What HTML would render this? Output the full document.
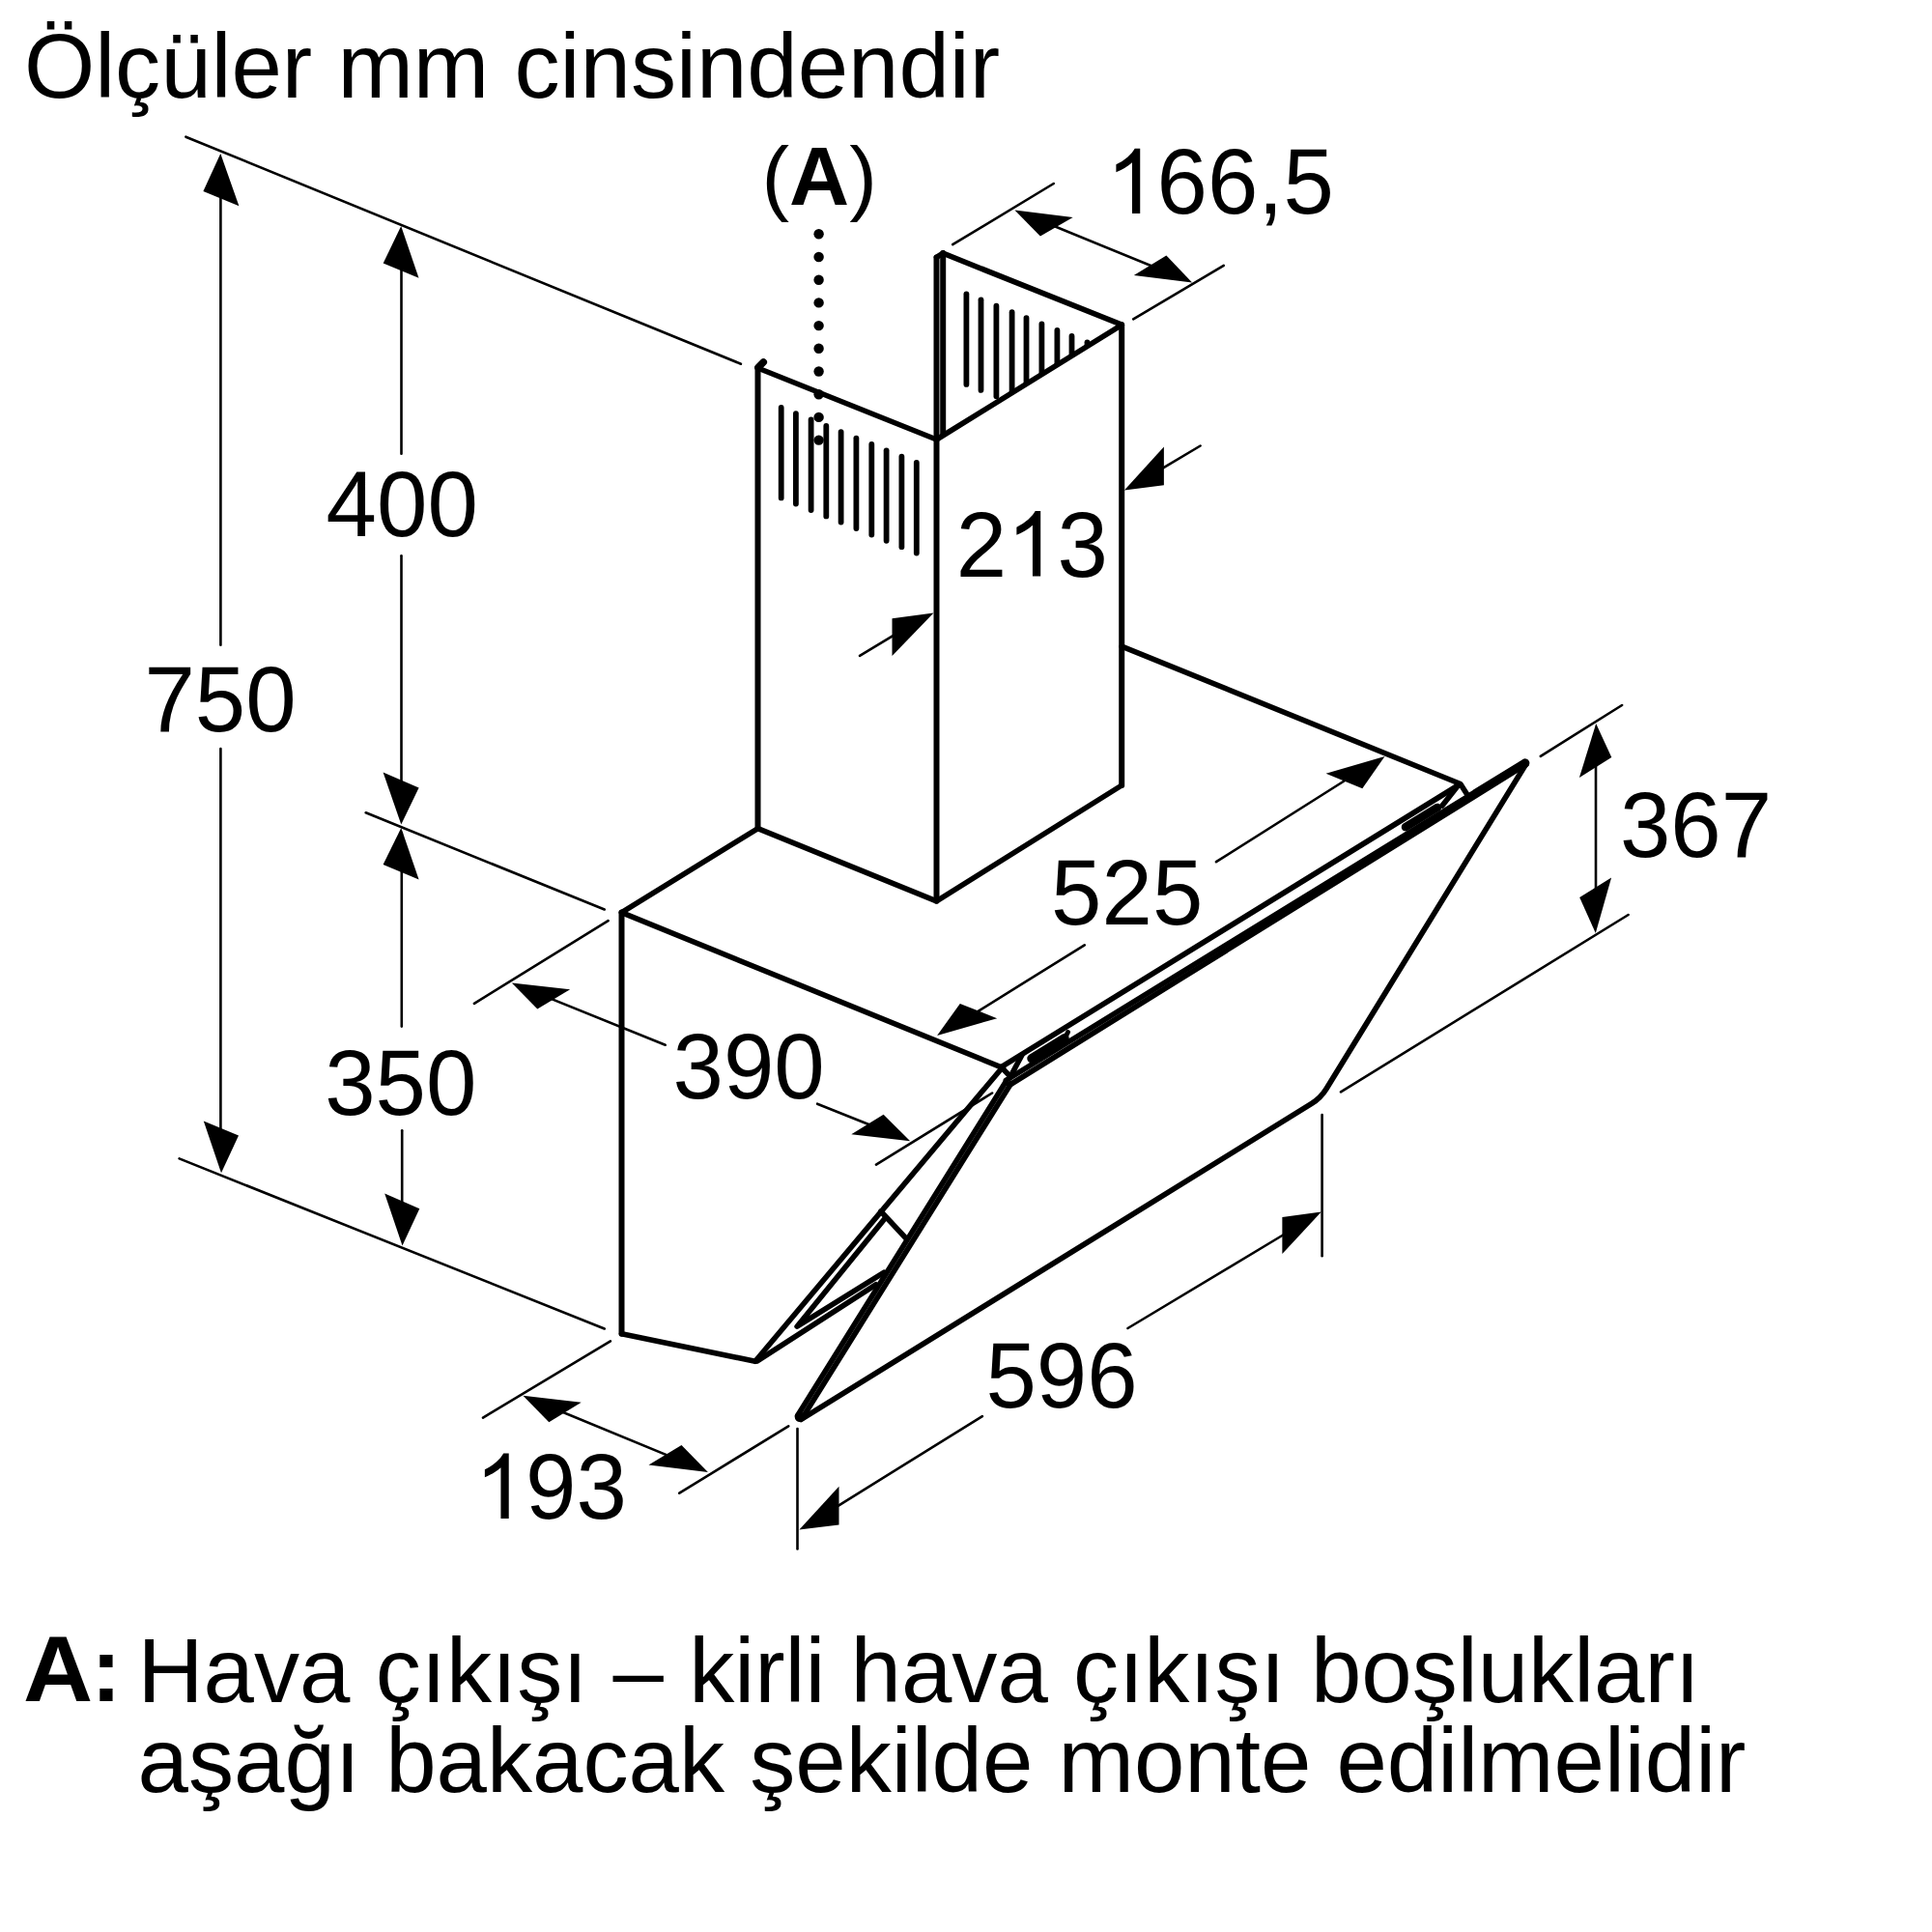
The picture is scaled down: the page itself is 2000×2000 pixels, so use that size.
<!DOCTYPE html>
<html><head><meta charset="utf-8"><title>Ölçüler</title>
<style>
html,body{margin:0;padding:0;background:#fff;}
body{width:2000px;height:2000px;overflow:hidden;}
svg{display:block;font-family:"Liberation Sans",sans-serif;}
</style></head>
<body>
<svg width="2000" height="2000" viewBox="0 0 2000 2000" stroke="#000" fill="#000">
<rect x="0" y="0" width="2000" height="2000" fill="#fff" stroke="none"/>
<g stroke="#000" fill="none">
<line x1="192.4" y1="141.7" x2="766.9" y2="376.7" stroke-width="2.6" stroke-linecap="round" />
<line x1="228.4" y1="165.0" x2="228.4" y2="667.8" stroke-width="2.6" stroke-linecap="round" />
<line x1="228.4" y1="775.0" x2="228.4" y2="1208.0" stroke-width="2.6" stroke-linecap="round" />
<line x1="415.5" y1="240.0" x2="415.5" y2="469.7" stroke-width="2.6" stroke-linecap="round" />
<line x1="415.5" y1="575.3" x2="415.5" y2="848.0" stroke-width="2.6" stroke-linecap="round" />
<line x1="415.8" y1="862.0" x2="415.8" y2="1062.6" stroke-width="2.6" stroke-linecap="round" />
<line x1="416.2" y1="1170.3" x2="416.2" y2="1284.0" stroke-width="2.6" stroke-linecap="round" />
<line x1="378.7" y1="841.3" x2="625.7" y2="941.5" stroke-width="2.6" stroke-linecap="round" />
<line x1="185.6" y1="1199.4" x2="625.7" y2="1375.5" stroke-width="2.6" stroke-linecap="round" />
<line x1="629.6" y1="953.1" x2="490.9" y2="1038.8" stroke-width="2.6" stroke-linecap="round" />
<line x1="545.0" y1="1023.6" x2="688.7" y2="1081.7" stroke-width="2.6" stroke-linecap="round" />
<line x1="846.1" y1="1142.7" x2="930.0" y2="1176.3" stroke-width="2.6" stroke-linecap="round" />
<line x1="1027.1" y1="1131.5" x2="907.0" y2="1205.6" stroke-width="2.6" stroke-linecap="round" />
<line x1="986.2" y1="253.2" x2="1090.8" y2="190.0" stroke-width="2.6" stroke-linecap="round" />
<line x1="1173.2" y1="330.4" x2="1266.8" y2="274.9" stroke-width="2.6" stroke-linecap="round" />
<line x1="1060.0" y1="221.3" x2="1225.0" y2="288.8" stroke-width="2.6" stroke-linecap="round" />
<line x1="1203.3" y1="484.9" x2="1242.6" y2="461.5" stroke-width="2.6" stroke-linecap="round" />
<line x1="925.2" y1="657.7" x2="890.0" y2="678.9" stroke-width="2.6" stroke-linecap="round" />
<line x1="1393.0" y1="807.5" x2="1259.0" y2="892.2" stroke-width="2.6" stroke-linecap="round" />
<line x1="1011.3" y1="1047.6" x2="1122.7" y2="978.3" stroke-width="2.6" stroke-linecap="round" />
<line x1="1594.8" y1="782.8" x2="1679.1" y2="730.0" stroke-width="2.6" stroke-linecap="round" />
<line x1="1388.0" y1="1130.3" x2="1685.6" y2="947.0" stroke-width="2.6" stroke-linecap="round" />
<line x1="1652.0" y1="760.0" x2="1652.0" y2="955.0" stroke-width="2.6" stroke-linecap="round" />
<line x1="1368.6" y1="1154.1" x2="1368.6" y2="1300.3" stroke-width="2.6" stroke-linecap="round" />
<line x1="825.5" y1="1479.0" x2="825.5" y2="1603.5" stroke-width="2.6" stroke-linecap="round" />
<line x1="866.8" y1="1559.3" x2="1016.9" y2="1466.1" stroke-width="2.6" stroke-linecap="round" />
<line x1="1167.5" y1="1375.0" x2="1329.0" y2="1278.0" stroke-width="2.6" stroke-linecap="round" />
<line x1="631.9" y1="1388.3" x2="500.0" y2="1467.6" stroke-width="2.6" stroke-linecap="round" />
<line x1="816.2" y1="1476.3" x2="703.3" y2="1545.7" stroke-width="2.6" stroke-linecap="round" />
<line x1="552.0" y1="1449.2" x2="722.0" y2="1519.4" stroke-width="2.6" stroke-linecap="round" />
<polygon points="228.3,159.0 210.4,198.1 247.4,213.2" fill="#000" stroke="none"/>
<polygon points="229.0,1214.3 210.8,1160.4 247.0,1175.5" fill="#000" stroke="none"/>
<polygon points="415.2,234.0 396.7,272.6 433.5,287.7" fill="#000" stroke="none"/>
<polygon points="415.3,853.5 396.6,799.6 433.6,815.4" fill="#000" stroke="none"/>
<polygon points="415.3,857.0 396.6,895.0 433.6,910.5" fill="#000" stroke="none"/>
<polygon points="416.5,1289.4 398.2,1235.6 434.3,1251.3" fill="#000" stroke="none"/>
<polygon points="529.8,1017.5 590.1,1024.2 556.3,1044.6" fill="#000" stroke="none"/>
<polygon points="942.2,1181.2 881.3,1174.2 914.6,1153.8" fill="#000" stroke="none"/>
<polygon points="1050.4,217.4 1110.7,225.1 1076.9,244.5" fill="#000" stroke="none"/>
<polygon points="1234.1,292.5 1173.8,285.0 1207.4,264.5" fill="#000" stroke="none"/>
<polygon points="1163.9,507.6 1204.9,462.5 1204.9,502.3" fill="#000" stroke="none"/>
<polygon points="966.5,634.6 923.5,640.3 923.5,679.1" fill="#000" stroke="none"/>
<polygon points="1433.5,782.9 1372.6,800.8 1410.3,816.3" fill="#000" stroke="none"/>
<polygon points="970.1,1072.0 993.8,1039.1 1032.2,1054.2" fill="#000" stroke="none"/>
<polygon points="1652.2,749.1 1634.9,805.1 1668.3,784.1" fill="#000" stroke="none"/>
<polygon points="1651.8,966.0 1635.2,929.1 1668.1,908.6" fill="#000" stroke="none"/>
<polygon points="1367.8,1254.5 1327.4,1259.9 1327.4,1298.1" fill="#000" stroke="none"/>
<polygon points="827.4,1583.5 868.5,1538.8 868.5,1578.6" fill="#000" stroke="none"/>
<polygon points="541.4,1444.8 601.7,1451.8 568.3,1472.2" fill="#000" stroke="none"/>
<polygon points="732.9,1523.9 671.5,1516.4 705.5,1495.9" fill="#000" stroke="none"/>
<circle cx="847.6" cy="242.3" r="5.2" fill="#000" stroke="none"/>
<circle cx="847.6" cy="266.0" r="5.2" fill="#000" stroke="none"/>
<circle cx="847.6" cy="289.7" r="5.2" fill="#000" stroke="none"/>
<circle cx="847.6" cy="313.4" r="5.2" fill="#000" stroke="none"/>
<circle cx="847.6" cy="337.1" r="5.2" fill="#000" stroke="none"/>
<circle cx="847.6" cy="360.8" r="5.2" fill="#000" stroke="none"/>
<circle cx="847.6" cy="384.5" r="5.2" fill="#000" stroke="none"/>
<circle cx="847.6" cy="408.2" r="5.2" fill="#000" stroke="none"/>
<circle cx="847.6" cy="431.9" r="5.2" fill="#000" stroke="none"/>
<circle cx="847.6" cy="455.6" r="5.2" fill="#000" stroke="none"/>
<polyline points="784.5,380.7 784.5,857.6" fill="none" stroke-width="6.0" stroke-linejoin="round" stroke-linecap="round"/>
<polyline points="790.3,374.9 784.9,380.3" fill="none" stroke-width="7.5" stroke-linejoin="round" stroke-linecap="round"/>
<polyline points="784.5,381.0 969.5,455.0" fill="none" stroke-width="5.6" stroke-linejoin="round" stroke-linecap="round"/>
<polyline points="969.5,266.4 969.5,932.8" fill="none" stroke-width="6.0" stroke-linejoin="round" stroke-linecap="round"/>
<polyline points="969.5,266.4 976.2,262.0" fill="none" stroke-width="5.6" stroke-linejoin="round" stroke-linecap="round"/>
<polyline points="976.2,262.0 976.2,449.0" fill="none" stroke-width="6.0" stroke-linejoin="round" stroke-linecap="round"/>
<polyline points="976.2,262.2 1161.2,336.2" fill="none" stroke-width="5.6" stroke-linejoin="round" stroke-linecap="round"/>
<polyline points="1161.2,336.2 1161.2,813.0" fill="none" stroke-width="6.0" stroke-linejoin="round" stroke-linecap="round"/>
<polyline points="969.5,455.0 1161.2,336.4" fill="none" stroke-width="5.6" stroke-linejoin="round" stroke-linecap="round"/>
<polyline points="784.5,857.6 969.5,932.8 1161.2,813.0" fill="none" stroke-width="5.6" stroke-linejoin="round" stroke-linecap="round"/>
<line x1="808.7" y1="421.9" x2="808.7" y2="515.4" stroke-width="5.8" stroke-linecap="round" />
<line x1="823.9" y1="428.1" x2="823.9" y2="521.6" stroke-width="5.8" stroke-linecap="round" />
<line x1="839.6" y1="434.5" x2="839.6" y2="528.0" stroke-width="5.8" stroke-linecap="round" />
<line x1="855.3" y1="440.9" x2="855.3" y2="534.4" stroke-width="5.8" stroke-linecap="round" />
<line x1="870.6" y1="447.1" x2="870.6" y2="540.6" stroke-width="5.8" stroke-linecap="round" />
<line x1="886.4" y1="453.6" x2="886.4" y2="547.1" stroke-width="5.8" stroke-linecap="round" />
<line x1="902.3" y1="460.0" x2="902.3" y2="553.5" stroke-width="5.8" stroke-linecap="round" />
<line x1="917.6" y1="466.3" x2="917.6" y2="559.8" stroke-width="5.8" stroke-linecap="round" />
<line x1="933.4" y1="472.7" x2="933.4" y2="566.2" stroke-width="5.8" stroke-linecap="round" />
<line x1="948.8" y1="479.0" x2="948.8" y2="572.5" stroke-width="5.8" stroke-linecap="round" />
<clipPath id="cp"><polygon points="976,250 1165,330 1161.2,336.4 969.5,455 969.5,250"/></clipPath>
<g clip-path="url(#cp)">
<line x1="1000.4" y1="304.3" x2="1000.4" y2="397.9" stroke-width="5.8" stroke-linecap="round" />
<line x1="1015.5" y1="310.3" x2="1015.5" y2="403.9" stroke-width="5.8" stroke-linecap="round" />
<line x1="1031.4" y1="316.7" x2="1031.4" y2="410.3" stroke-width="5.8" stroke-linecap="round" />
<line x1="1047.6" y1="323.2" x2="1047.6" y2="416.8" stroke-width="5.8" stroke-linecap="round" />
<line x1="1062.5" y1="329.1" x2="1062.5" y2="422.7" stroke-width="5.8" stroke-linecap="round" />
<line x1="1078.4" y1="335.5" x2="1078.4" y2="429.1" stroke-width="5.8" stroke-linecap="round" />
<line x1="1094.4" y1="341.9" x2="1094.4" y2="435.5" stroke-width="5.8" stroke-linecap="round" />
<line x1="1109.5" y1="347.9" x2="1109.5" y2="441.5" stroke-width="5.8" stroke-linecap="round" />
<line x1="1125.5" y1="354.3" x2="1125.5" y2="447.9" stroke-width="5.8" stroke-linecap="round" />
</g>
<polyline points="784.6,857.6 643.5,944.6" fill="none" stroke-width="5.6" stroke-linejoin="round" stroke-linecap="round"/>
<polyline points="643.5,944.6 643.5,1380.7" fill="none" stroke-width="6.0" stroke-linejoin="round" stroke-linecap="round"/>
<polyline points="643.5,1380.7 781.8,1409.2" fill="none" stroke-width="5.6" stroke-linejoin="round" stroke-linecap="round"/>
<polyline points="643.5,944.6 1038.5,1105.6" fill="none" stroke-width="5.6" stroke-linejoin="round" stroke-linecap="round"/>
<polyline points="1161.2,669.1 1511.8,811.5 1518.8,822.5" fill="none" stroke-width="5.6" stroke-linejoin="round" stroke-linecap="round"/>
<polyline points="1509.5,813.0 1036.4,1104.6" fill="none" stroke-width="5.6" stroke-linejoin="round" stroke-linecap="round"/>
<polyline points="781.8,1409.2 1035.4,1107.7" fill="none" stroke-width="5.6" stroke-linejoin="round" stroke-linecap="round"/>
<polyline points="784.0,1408.9 906.6,1329.8" fill="none" stroke-width="5.6" stroke-linejoin="round" stroke-linecap="round"/>
<polyline points="915.5,1262.0 825.1,1373.2 914.9,1317.3" fill="none" stroke-width="5.6" stroke-linejoin="round" stroke-linecap="round"/>
<polyline points="911.8,1254.0 937.5,1281.5" fill="none" stroke-width="5.6" stroke-linejoin="round" stroke-linecap="round"/>
<polyline points="1036.4,1104.6 1046.0,1114.5" fill="none" stroke-width="5.6" stroke-linejoin="round" stroke-linecap="round"/>
<polyline points="1058.0,1092.0 1046.0,1114.5" fill="none" stroke-width="5.6" stroke-linejoin="round" stroke-linecap="round"/>
<polyline points="1509.5,813.0 1493.0,834.0" fill="none" stroke-width="5.6" stroke-linejoin="round" stroke-linecap="round"/>
<polyline points="1042.0,1118.6 825.6,1465.4" fill="none" stroke-width="5.6" stroke-linejoin="round" stroke-linecap="round"/>
<polyline points="1046.7,1121.4 830.4,1468.2" fill="none" stroke-width="5.6" stroke-linejoin="round" stroke-linecap="round"/>
<circle cx="828.0" cy="1466.8" r="5.3" fill="#000" stroke="none"/>
<polyline points="1041.4,1118.3 1578.1,788.4" fill="none" stroke-width="5.6" stroke-linejoin="round" stroke-linecap="round"/>
<polyline points="1044.6,1123.5 1579.9,791.2" fill="none" stroke-width="5.6" stroke-linejoin="round" stroke-linecap="round"/>
<circle cx="1579" cy="789.8" r="4.4" fill="#000" stroke="none"/>
<path d="M1580,790.5 L1372.96,1127.23 Q1367.2,1136.6 1357.85,1142.39 L829.3,1469.4" fill="none" stroke-width="5.7" stroke-linecap="round" stroke-linejoin="round"/>
<line x1="1068.0" y1="1095.7" x2="1102.0" y2="1074.8" stroke-width="9.5" stroke-linecap="round" />
<line x1="1102.5" y1="1074.5" x2="1105.5" y2="1068.5" stroke-width="5" stroke-linecap="round" />
<line x1="1455.0" y1="856.2" x2="1488.0" y2="835.9" stroke-width="8.5" stroke-linecap="round" />
<text stroke="none" fill="#000" x="24.9" y="101.0" font-size="94.2" text-anchor="start" >Ölçüler mm cinsindendir</text>
<text stroke="none" fill="#000" transform="translate(149.42,756.60) scale(1,1.03)" font-size="94.2">750</text>
<text stroke="none" fill="#000" transform="translate(337.62,554.60) scale(1,1.03)" font-size="94.2">400</text>
<text stroke="none" fill="#000" transform="translate(336.22,1154.00) scale(1,1.03)" font-size="94.2">350</text>
<text stroke="none" fill="#000" transform="translate(696.52,1136.60) scale(1,1.03)" font-size="94.2">390</text>
<text stroke="none" fill="#000" transform="translate(989.72,596.50) scale(1,1.03)" font-size="94.2">2</text>
<path d="M763 0H583V1147Q518 1085 412.5 1023T223 930V1104Q373 1174.5 485.5 1275T644 1466H763Z" transform="translate(1042.11,596.50) scale(0.04600,-0.04600)" fill="#000" stroke="none"/>
<text stroke="none" fill="#000" transform="translate(1094.49,596.50) scale(1,1.03)" font-size="94.2">3</text>
<path d="M763 0H583V1147Q518 1085 412.5 1023T223 930V1104Q373 1174.5 485.5 1275T644 1466H763Z" transform="translate(1145.14,221.10) scale(0.04600,-0.04600)" fill="#000" stroke="none"/>
<text stroke="none" fill="#000" transform="translate(1197.52,221.10) scale(1,1.03)" font-size="94.2">66,5</text>
<text stroke="none" fill="#000" transform="translate(1088.12,957.40) scale(1,1.03)" font-size="94.2">525</text>
<text stroke="none" fill="#000" transform="translate(1676.92,887.20) scale(1,1.03)" font-size="94.2">367</text>
<path d="M763 0H583V1147Q518 1085 412.5 1023T223 930V1104Q373 1174.5 485.5 1275T644 1466H763Z" transform="translate(491.62,1572.00) scale(0.04600,-0.04600)" fill="#000" stroke="none"/>
<text stroke="none" fill="#000" transform="translate(544.01,1572.00) scale(1,1.03)" font-size="94.2">93</text>
<text stroke="none" fill="#000" transform="translate(1020.42,1457.00) scale(1,1.03)" font-size="94.2">596</text>
<text stroke="none" fill="#000" x="788.4" y="211.8" font-size="86">(<tspan font-weight="bold">A</tspan>)</text>
<text stroke="none" fill="#000" transform="translate(23.9,1761.2) scale(1.06,1.03)" font-size="94.2" font-weight="bold">A</text>
<text stroke="none" fill="#000" x="94.2" y="1761.2" font-size="94.2" text-anchor="start" font-weight="bold">:</text>
<text stroke="none" fill="#000" x="142.6" y="1761.7" font-size="94.2" text-anchor="start" >Hava çıkışı – kirli hava çıkışı boşlukları</text>
<text stroke="none" fill="#000" x="142.6" y="1855.0" font-size="94.2" text-anchor="start" >aşağı bakacak şekilde monte edilmelidir</text>
</g>
</svg>
</body></html>
